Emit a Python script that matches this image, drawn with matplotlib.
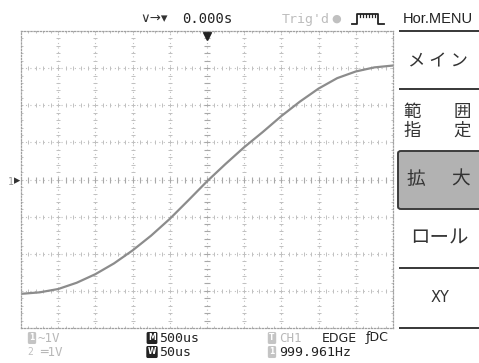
import matplotlib
matplotlib.use("Agg")
import matplotlib.pyplot as plt
from matplotlib.patches import Rectangle, FancyBboxPatch
from matplotlib.lines import Line2D

# trace (zoom window, 50 us/div, 1 V/div)
t_us = [-250, -225, -200, -175, -150, -125, -100, -75, -50, -25, 0,
        25, 50, 75, 100, 125, 150, 175, 200, 225, 250]
volts = [-3.08, -3.04, -2.95, -2.78, -2.55, -2.26, -1.91, -1.51, -1.06, -0.56, -0.05,
         0.42, 0.87, 1.28, 1.71, 2.10, 2.45, 2.73, 2.91, 3.02, 3.07]

menu_items = [("メ イ ン",), ("範", "囲", "指", "定"), ("拡", "大"), ("ロール",), ("XY",)]
top_texts = ["0.000s", "Trig'd"]
bottom_row1 = ["~1V", "500us", "CH1", "EDGE", "DC"]
bottom_row2 = ["═1V", "50us", "999.961Hz"]

W, H = 479, 363
jp = ["Noto Sans CJK JP", "DejaVu Sans"]
mono = "DejaVu Sans Mono"


def fx(x):
    return x / W


def fy(y):
    return 1 - y / H


fig = plt.figure(figsize=(4.79, 3.63), dpi=100)
fig.patch.set_facecolor("white")

# scope screen
ax = fig.add_axes([fx(21), fy(328), 372 / W, 297 / H])
ax.set_xlim(-250, 250)
ax.set_ylim(-4, 4)
ax.set_xticks([])
ax.set_yticks([])
for s in ax.spines.values():
    s.set_color("#a0a0a0")
    s.set_linestyle((0, (1, 1.5)))
    s.set_linewidth(0.9)

grid_c = "#c0c0c0"
for k in range(-4, 5):
    ax.axvline(k * 50, color=grid_c, lw=0.8, ls=(0, (1, 3)))
for k in range(-3, 4):
    ax.axhline(k, color=grid_c, lw=0.8, ls=(0, (1, 3)))

sub_y = [j * 0.2 for j in range(-20, 21)]
sub_x = [j * 10 for j in range(-25, 26)]
for k in range(-5, 6):
    ax.plot([k * 50] * len(sub_y), sub_y, ls="none", marker="_", ms=3,
            mew=0.7, color=grid_c)
for k in range(-4, 5):
    ax.plot(sub_x, [k] * len(sub_x), ls="none", marker="|", ms=3,
            mew=0.7, color=grid_c)
# centre lines have slightly bigger ticks
ax.plot([0] * len(sub_y), sub_y, ls="none", marker="_", ms=5, mew=0.8, color="#a8a8a8")
ax.plot(sub_x, [0] * len(sub_x), ls="none", marker="|", ms=5, mew=0.8, color="#a8a8a8")

ax.plot(t_us, volts, color="#8c8c8c", lw=1.6, solid_capstyle="round")

# trigger position and channel markers
ax.plot([0], [3.87], marker="v", ms=6, color="#222222", clip_on=False)
fig.text(fx(8), fy(182), "1", fontsize=7, color="#999999", va="center", family=mono)
fig.text(fx(14), fy(181), "▸", fontsize=9, color="#333333", va="center")

# top status line
ty = 19
fig.text(fx(140), fy(ty), "∨→▾", fontsize=9.5, color="#333333", va="center")
fig.text(fx(182), fy(ty), top_texts[0], fontsize=10, family=mono, color="#222222", va="center")
fig.text(fx(282), fy(ty), top_texts[1], fontsize=9.5, family=mono, color="#bdbdbd", va="center")
fig.text(fx(331), fy(ty), "●", fontsize=8, color="#c0c0c0", va="center")
pulse_x = [352, 357, 357, 378, 378, 384]
pulse_y = [24, 24, 14, 14, 24, 24]
fig.add_artist(Line2D([fx(v) for v in pulse_x], [fy(v) for v in pulse_y],
                      transform=fig.transFigure, color="#222222", lw=1.3))
for xx in [360, 363, 366, 369, 372, 375]:
    fig.add_artist(Line2D([fx(xx), fx(xx)], [fy(14), fy(16.5)],
                          transform=fig.transFigure, color="#222222", lw=0.9))

# right menu
fig.text(fx(438), fy(ty), "Hor.MENU", fontsize=10.5, ha="center", va="center",
         family="Liberation Sans", color="#222222")
for y in [31, 89, 268, 328]:
    fig.add_artist(Rectangle((fx(399), fy(y) - 0.003), 1, 0.006,
                             transform=fig.transFigure, color="#3c3c3c", lw=0))
box = FancyBboxPatch((fx(398), fy(209)), 1, (209 - 151) / H,
                     boxstyle="round,pad=0,rounding_size=0.006",
                     transform=fig.transFigure, facecolor="#b2b2b2",
                     edgecolor="#3c3c3c", lw=1.4)
fig.add_artist(box)

txt_c = "#333333"
fig.text(fx(438), fy(61), menu_items[0][0], fontsize=12.5, ha="center", va="center",
         family=jp, color=txt_c)
for (ch, x, y) in zip(menu_items[1], [412, 462, 412, 462], [112, 112, 131, 131]):
    fig.text(fx(x), fy(y), ch, fontsize=12.5, ha="center", va="center", family=jp, color=txt_c)
for (ch, x) in zip(menu_items[2], [416, 461]):
    fig.text(fx(x), fy(179), ch, fontsize=13.5, ha="center", va="center", family=jp, color=txt_c)
fig.text(fx(439), fy(238), menu_items[3][0], fontsize=14, ha="center", va="center",
         family=jp, color=txt_c)
fig.text(fx(440), fy(298), menu_items[4][0], fontsize=10.5, ha="center", va="center",
         family="DejaVu Sans", color=txt_c)

# bottom status lines
def chip(x, y, letter, face, fs=5.5):
    fig.text(fx(x), fy(y), letter, fontsize=fs, color="white", ha="center",
             va="center", family="DejaVu Sans", weight="bold",
             bbox=dict(boxstyle="round,pad=0.2", fc=face, ec="none"))


r1, r2 = 338, 352
chip(32, r1, "1", "#c4c4c4")
fig.text(fx(38), fy(r1), bottom_row1[0], fontsize=9, family=mono, color="#b8b8b8", va="center")
fig.text(fx(27), fy(r2), "2", fontsize=7, family=mono, color="#c0c0c0", va="center")
fig.text(fx(40), fy(r2), bottom_row2[0], fontsize=9, family=mono, color="#b8b8b8", va="center")

chip(152, r1, "M", "#222222", 5.5)
fig.text(fx(159), fy(r1), bottom_row1[1], fontsize=9.5, family=mono, color="#222222", va="center")
chip(152, r2, "W", "#222222", 5.5)
fig.text(fx(159), fy(r2), bottom_row2[1], fontsize=9.5, family=mono, color="#222222", va="center")

chip(272, r1, "T", "#c4c4c4")
fig.text(fx(279), fy(r1), bottom_row1[2], fontsize=9, family=mono, color="#b8b8b8", va="center")
fig.text(fx(322), fy(r1), bottom_row1[3], fontsize=9, family="DejaVu Sans", color="#222222", va="center")
fig.text(fx(366), fy(r1), "ƒ" + bottom_row1[4], fontsize=9, family="DejaVu Sans", color="#222222", va="center")
chip(272, r2, "1", "#c4c4c4")
fig.text(fx(279), fy(r2), bottom_row2[2], fontsize=9.5, family=mono, color="#222222", va="center")

fig.savefig("out.png", dpi=100, facecolor="white")
